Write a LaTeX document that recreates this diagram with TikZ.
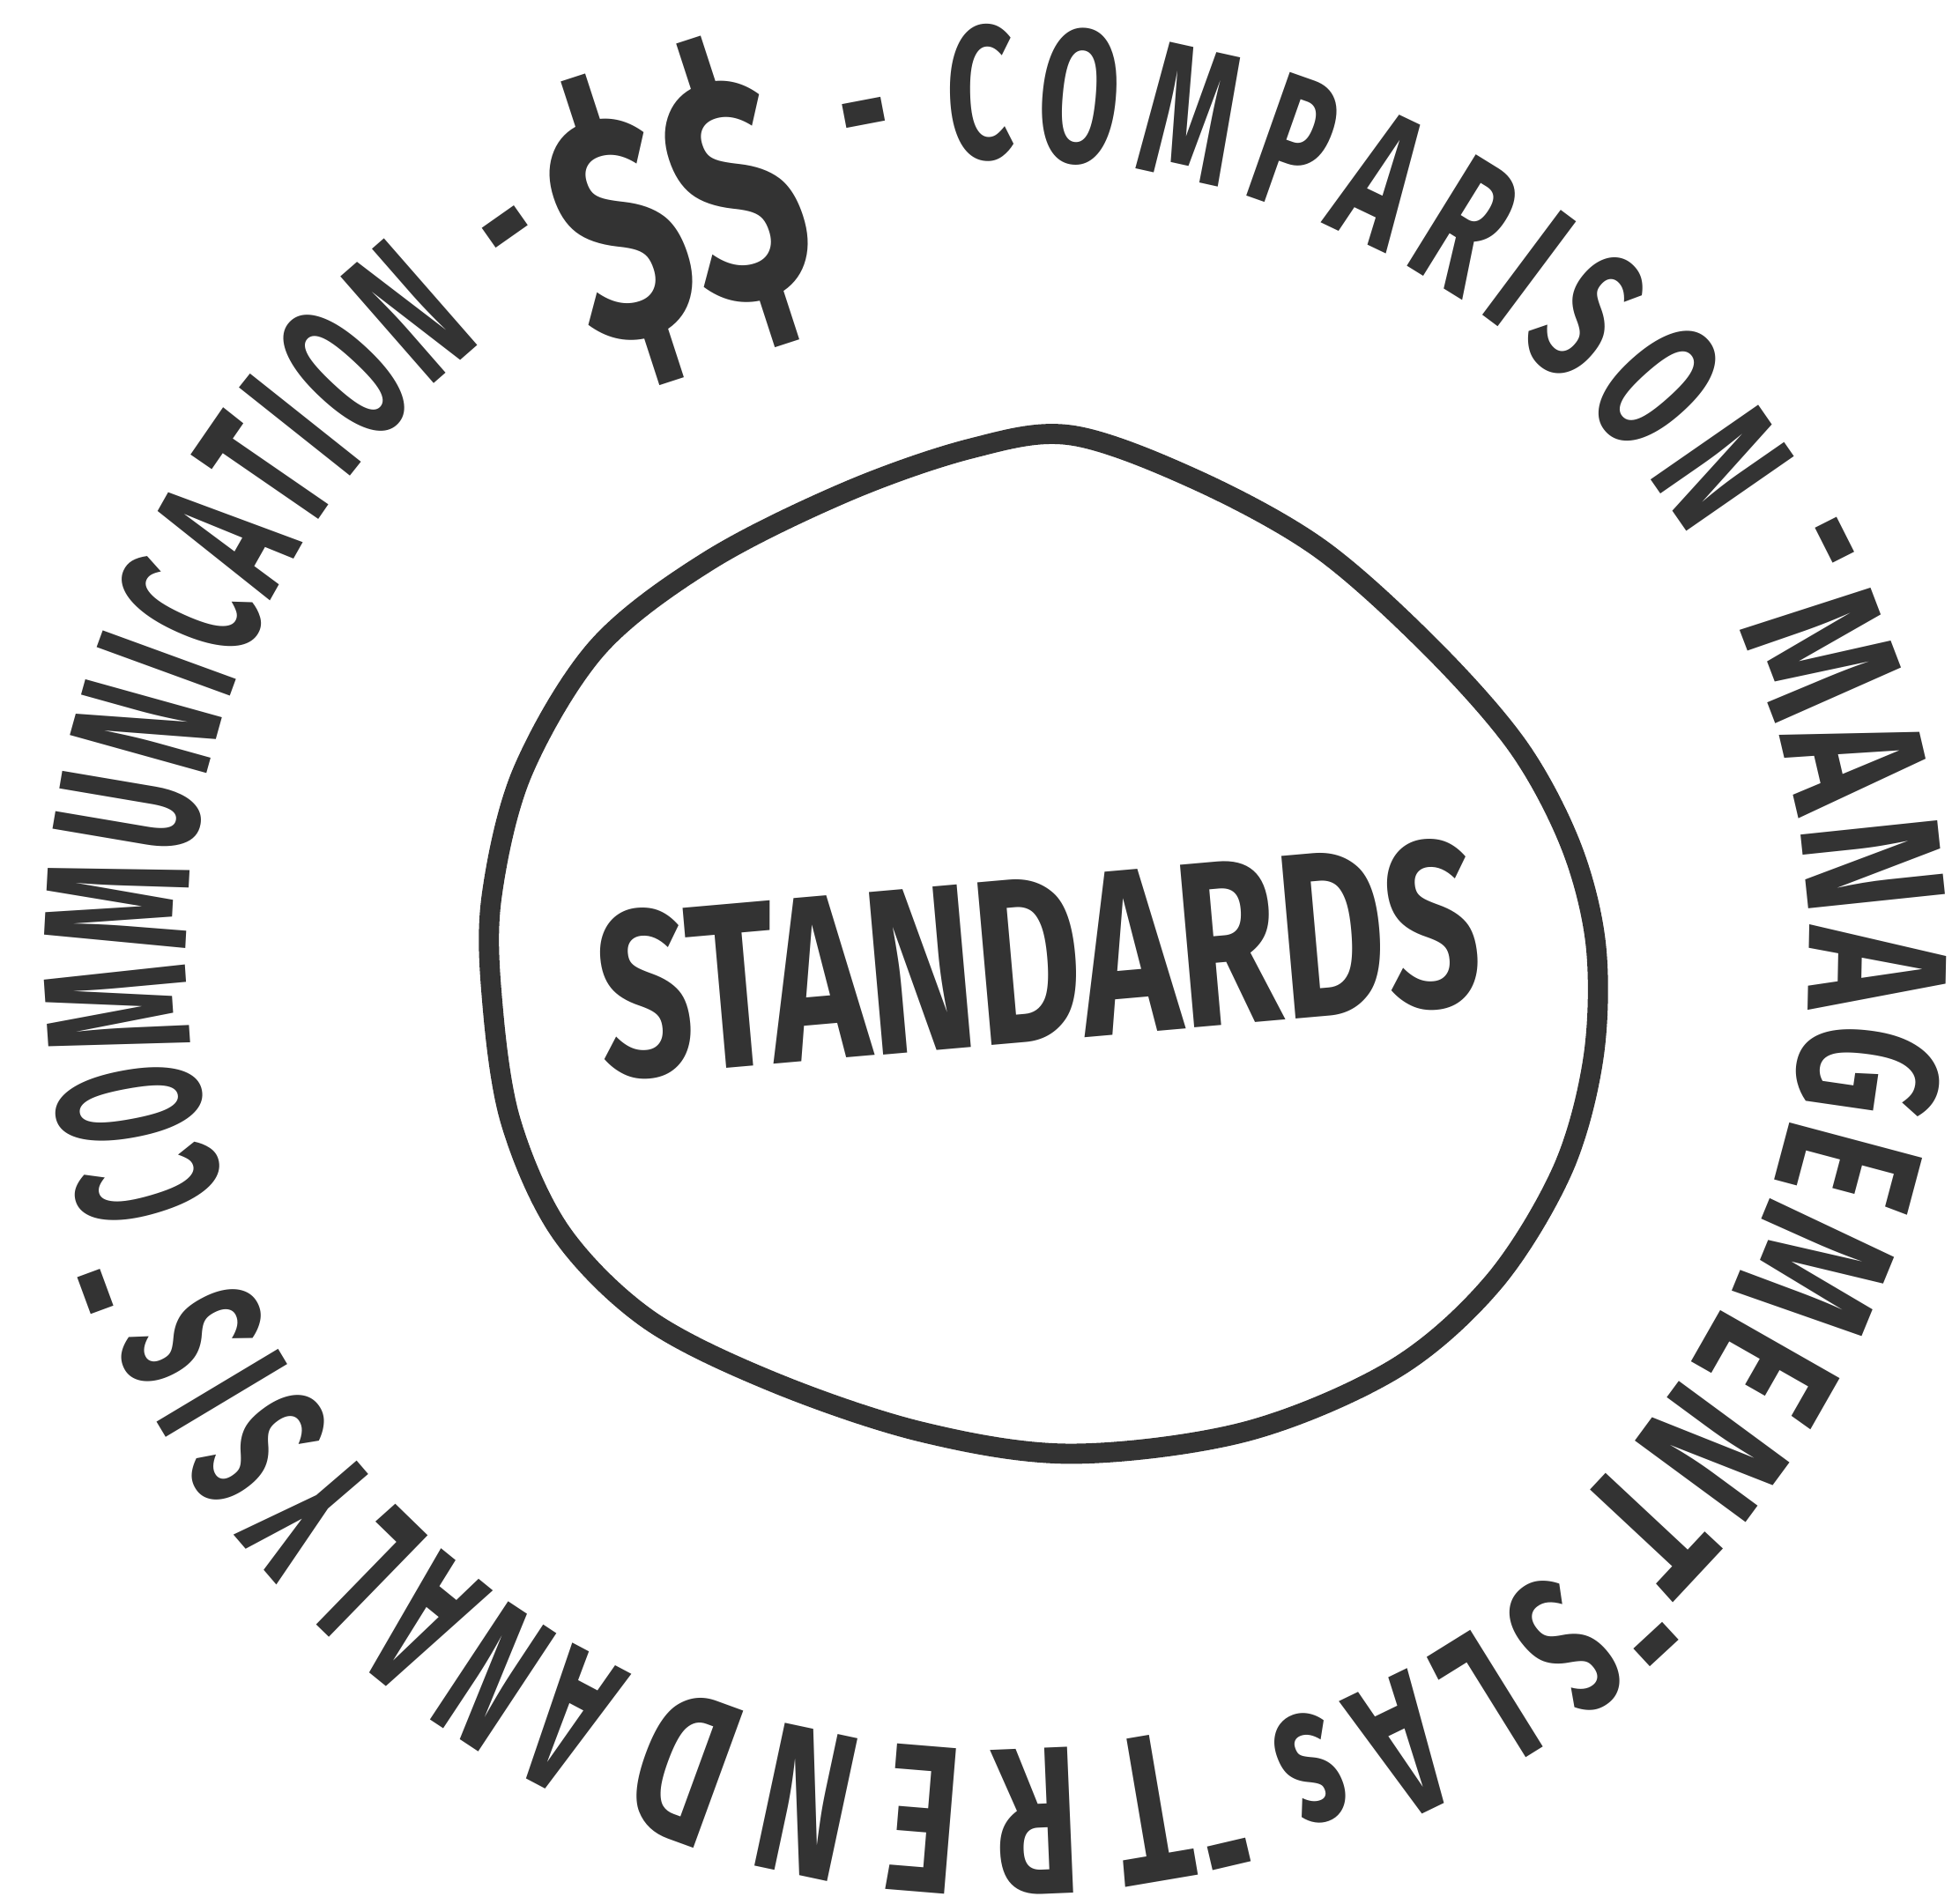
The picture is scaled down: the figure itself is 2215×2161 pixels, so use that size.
\documentclass[tikz,border=0pt]{standalone}
\usepackage{fontspec}
\setmainfont{Fira Sans}
\newfontfamily\faceA[FakeStretch=0.53]{Fira Sans}
\newfontfamily\faceB[FakeStretch=0.62]{Fira Sans}
\newfontfamily\faceC[FakeStretch=0.66]{Fira Sans}
\newfontfamily\faceM[FakeStretch=0.70]{Fira Sans}
\newfontfamily\faceS[FakeStretch=0.70]{Fira Sans}
\usetikzlibrary{decorations.text}
\definecolor{ink}{RGB}{51,51,51}
\newcommand\ringA{\faceA\bfseries\fontsize{66pt}{66pt}\selectfont}
\newcommand\ringB{\faceB\bfseries\fontsize{61pt}{61pt}\selectfont}
\newcommand\ringL{\faceB\bfseries\fontsize{64pt}{64pt}\selectfont}
\newcommand\ringC{\faceC\bfseries\fontsize{68pt}{68pt}\selectfont}
\newcommand\ringM{\faceM\bfseries\fontsize{64pt}{64pt}\selectfont}
\newcommand\bigfont{\faceS\bfseries\fontsize{76pt}{76pt}\selectfont}
\newcommand\dollarfont{\faceS\bfseries\fontsize{104pt}{104pt}\selectfont}
\begin{document}
\begin{tikzpicture}[x=0.01cm,y=0.01cm,
  ringword/.style 2 args={decorate, decoration={text along path, text={|#1|#2}, text align={fit to path}, text color=ink}},
  ringdash/.style={font=\ringL, text=ink, inner sep=0pt},
  ringpath/.style={shift={(1132,1081)}}]
\useasboundingbox[fill=white] (0,0) rectangle (2215,2161);

% inner hand-drawn circle
\draw[ink, line width=6.5pt, line join=round] plot[smooth cycle, tension=0.55] coordinates {
  (1215,1667) (1356,1617) (1497,1539) (1624,1426) (1723,1313) (1783,1200)
  (1811,1087) (1808,960) (1773,833) (1695,706) (1582,607) (1413,536)
  (1215,511) (1045,536) (876,593) (735,664) (636,763) (579,890)
  (558,1031) (558,1144) (593,1285) (678,1426) (805,1525) (961,1603)
  (1102,1652)};

\node[font=\bigfont, text=ink, rotate=5, inner sep=0pt] (std) at (1178,1072) {STANDARDS};

% ring words
\path[ringpath, ringword={\ringB}{COMPARISON}] (93.5:9.2cm and 9.0cm) arc[start angle=93.5, end angle=31.4, x radius=9.2cm, y radius=9.0cm];
\path[ringpath, ringword={\ringM}{MANAGEMENT}] (24.3:9.2cm and 8.95cm) arc[start angle=24.3, end angle=-44.9, x radius=9.2cm, y radius=8.95cm];
\path[ringpath, ringword={\ringL}{SLAs}] (-49:9.55cm and 9.3cm) arc[start angle=-49, end angle=-71.5, x radius=9.55cm, y radius=9.3cm];
\path[ringpath, ringword={\ringC}{TREND}] (-77.5:9.3cm and 9.05cm) arc[start angle=-77.5, end angle=-113.7, x radius=9.3cm, y radius=9.05cm];
\path[ringpath, ringword={\ringA}{ANALYSIS}] (-116.3:9.38cm and 9.13cm) arc[start angle=-116.3, end angle=-156.2, x radius=9.38cm, y radius=9.13cm];
\path[ringpath, ringword={\ringA}{COMMUNICATION}] (-161.9:9.2cm and 8.95cm) arc[start angle=-161.9, end angle=-230.6, x radius=9.2cm, y radius=8.95cm];

% separators
\node[ringdash, rotate=10.8] (d1) at (985,2005) {-};
\node[ringdash, rotate=-63.2] (d2) at (2057,1535) {-};
\node[ringdash, rotate=-137.2] (d3) at (1860,315) {-};
\node[ringdash, rotate=-166.8] (d4) at (1388,84) {-};
\node[ringdash, rotate=110.2] (d5) at (135,705) {-};
\node[ringdash, rotate=35.1] (d6) at (590,1880) {-};

\node[font=\dollarfont, text=ink, rotate=18, inner sep=0pt] (dol) at (770,1921) {\$\$};
\end{tikzpicture}
\end{document}
